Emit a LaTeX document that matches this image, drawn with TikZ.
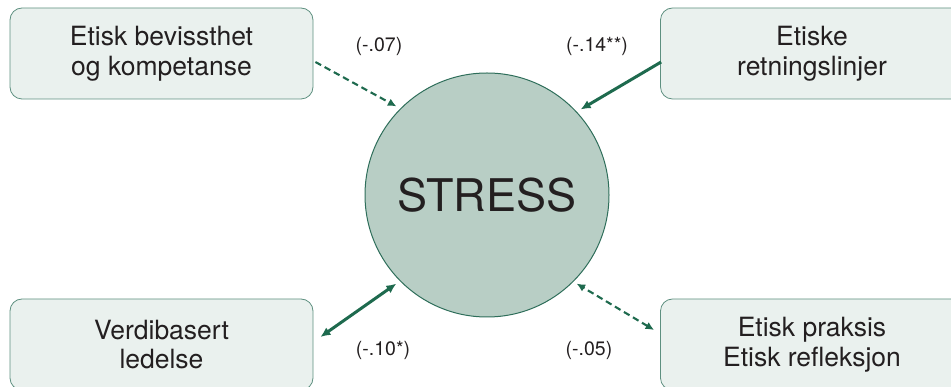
\documentclass[tikz,border=0pt]{standalone}
\usepackage{fontspec}
\setmainfont{TeX Gyre Heros}
\usetikzlibrary{arrows.meta,calc}
\definecolor{boxfill}{HTML}{EAF1EE}
\definecolor{boxline}{HTML}{5E9080}
\definecolor{circfill}{HTML}{B8CEC5}
\definecolor{circline}{HTML}{2E6E5A}
\definecolor{arrcol}{HTML}{1E6A4E}
\definecolor{txt}{HTML}{231F20}
\begin{document}
\begin{tikzpicture}[x=1pt,y=-1pt,
  infobox/.style={draw=boxline, line width=0.8pt, fill=boxfill, rounded corners=12pt,
    minimum width=303pt, minimum height=91pt, align=center, text=txt,
    font=\fontsize{26.5}{29.5}\selectfont, inner sep=0pt},
  stressnode/.style={circle, draw=circline, line width=1pt, fill=circfill,
    minimum size=244pt, text=txt, font=\fontsize{45}{50}\selectfont, inner sep=0pt},
  coef/.style={text=txt, font=\fontsize{19.5}{22}\selectfont, inner sep=0pt},
  solidarr/.style={draw=arrcol, line width=3pt, -{Latex[length=10pt,width=9pt]}},
  dasharr/.style={draw=arrcol, line width=2.1pt, dash pattern=on 6.5pt off 4pt, -{Latex[length=8.5pt,width=8pt]}},
  solidboth/.style={draw=arrcol, line width=3pt, {Latex[length=10pt,width=9pt]}-{Latex[length=10pt,width=9pt]}},
  dashboth/.style={draw=arrcol, line width=2.1pt, dash pattern=on 6.5pt off 4pt, {Latex[length=8.5pt,width=8pt]}-{Latex[length=8.5pt,width=8pt]}}
]
\useasboundingbox (0,0) rectangle (951,387);
\clip (0,0) rectangle (951,387);

\node[stressnode] (st) at (487,195) {STRESS};

\node[infobox] (tl) at (161.5,53.5) {Etisk bevissthet\\og kompetanse};
\node[infobox] (tr) at (812,53.5) {Etiske\\retningslinjer};
\node[infobox] (bl) at (161.5,344.5) {Verdibasert\\ledelse};
\node[infobox] (br) at (812,344.5) {Etisk praksis\\Etisk refleksjon};

\node[coef] (c1) at (379,46) {(-.07)};
\node[coef] (c2) at (597,46) {(-.14**)};
\node[coef] (c3) at (383,350) {(-.10*)};
\node[coef] (c4) at (589,350) {(-.05)};

\draw[dasharr] ($(tl.east)+(2,8.5)$) -- ($(st.135)+(-4,-2)$);
\draw[solidarr] ($(tr.west)+(1,8.5)$) -- ($(st.43)+(4,-2)$);
\draw[solidboth] ($(bl.east)+(7,-7.5)$) -- ($(st.-135)+(-4,2)$);
\draw[dashboth] ($(br.west)+(-6,-14.5)$) -- ($(st.-45)+(3,2)$);
\end{tikzpicture}
\end{document}
